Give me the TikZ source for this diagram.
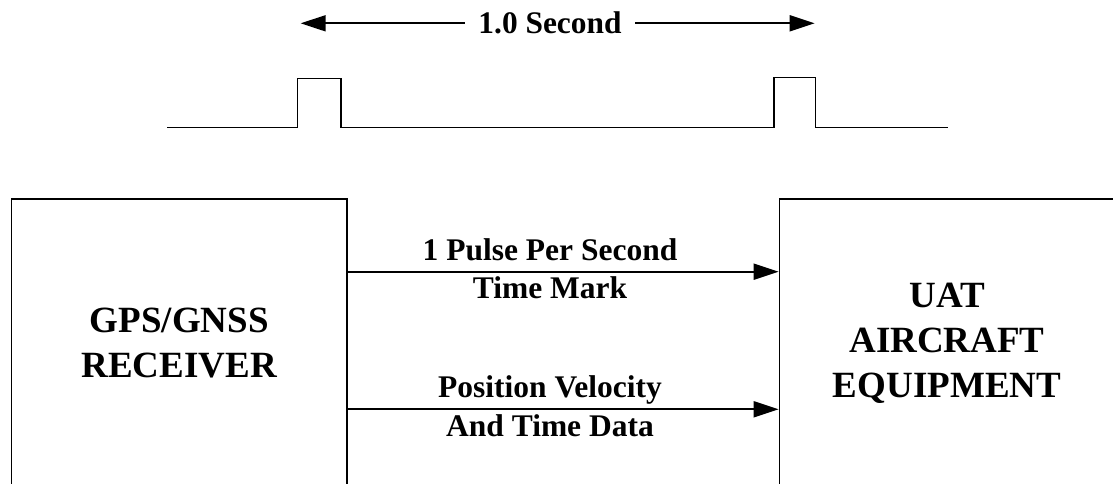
\documentclass[tikz,border=0pt]{standalone}
\usepackage{fontspec}
\setmainfont{Liberation Serif}
\usetikzlibrary{arrows.meta}
\begin{document}
\begin{tikzpicture}[x=1pt,y=-1pt,
  blockbox/.style={draw=black,line width=1.3pt,rectangle,minimum width=335.5pt,minimum height=288pt,inner sep=0pt,align=center,font=\bfseries\fontsize{37}{45}\selectfont},
  conn/.style={line width=1.9pt,-{Triangle[length=25pt,width=16pt]}},
  lbl/.style={inner sep=0pt,anchor=base,font=\bfseries\fontsize{31.5}{38.5}\selectfont},
  pulseline/.style={line width=1.9pt,line join=miter}]
\useasboundingbox (0,0) rectangle (1113,484);
% timing arrow
\node[font=\bfseries\fontsize{31.4}{36}\selectfont,inner xsep=13.5pt,inner ysep=0pt] (sec) at (550,23.3) {1.0 Second};
\coordinate (tl) at (300.7,23.3);
\coordinate (tr) at (814.6,23.3);
\draw[conn] (sec.west) -- (tl);
\draw[conn] (sec.east) -- (tr);
% pulse train
\coordinate (p0) at (167,127.5);
\coordinate (p1) at (297.5,127.5);
\coordinate (p2) at (297.5,78.5);
\coordinate (p3) at (341,78.5);
\coordinate (p4) at (341,127.5);
\coordinate (p5) at (774,127.5);
\coordinate (p6) at (774,77.5);
\coordinate (p7) at (815.5,77.5);
\coordinate (p8) at (815.5,127.5);
\coordinate (p9) at (947.5,127.5);
\draw[pulseline] (p0) -- (p1) -- (p2) -- (p3) -- (p4) -- (p5) -- (p6) -- (p7) -- (p8) -- (p9);
% blocks
\node[blockbox] (gps) at (179.25,343) {GPS/GNSS\\RECEIVER};
\node[blockbox] (uat) at (947,343) {UAT\\AIRCRAFT\\EQUIPMENT};
% connectors
\coordinate (a1) at (gps.east |- 0,271.7);
\coordinate (b1) at (uat.west |- 0,271.7);
\coordinate (a2) at (gps.east |- 0,409.3);
\coordinate (b2) at (uat.west |- 0,409.3);
\draw[conn] (a1) -- (b1);
\draw[conn] (a2) -- (b2);
\node[lbl] (l1a) at (550,260) {1 Pulse Per Second};
\node[lbl] (l1b) at (550,298) {Time Mark};
\node[lbl] (l2a) at (550,397.3) {Position Velocity};
\node[lbl] (l2b) at (550,436) {And Time Data};
\end{tikzpicture}
\end{document}
